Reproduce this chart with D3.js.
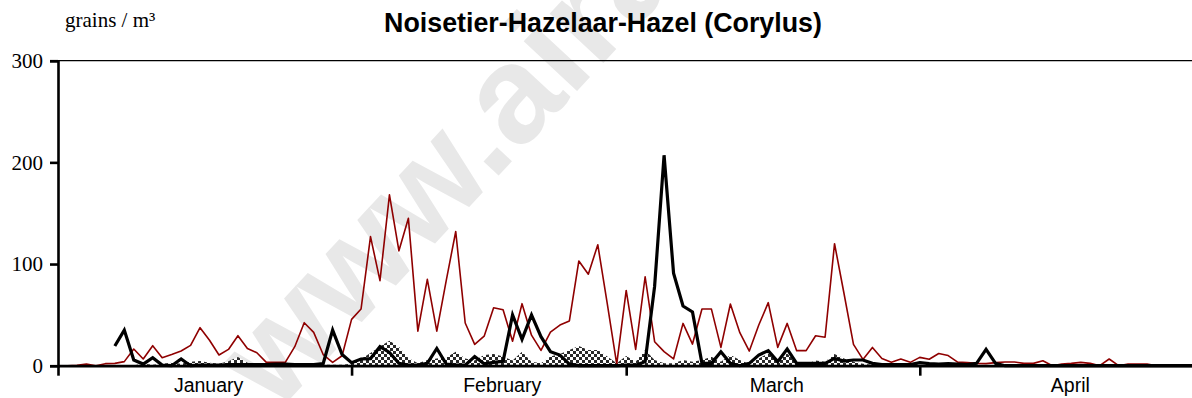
<!DOCTYPE html>
<html>
<head>
<meta charset="utf-8">
<script src="https://cdn.jsdelivr.net/npm/d3@7"></script>
<style>
  html, body { margin: 0; padding: 0; background: #fff; }
  svg { display: block; }
</style>
</head>
<body>
<svg id="chart" width="1192" height="398"></svg>
<script>
// Hazel pollen counts, one value per day from 1 January to 30 April.
const months = ["January", "February", "March", "April"];
const monthDays = [31, 29, 31, 30];
const yTicks = [0, 100, 200, 300];

// Daily mean over previous seasons (thin red line)
const meanSeries = [
  0, 0, 0.5, 1.6, 0, 2, 2.3, 4, 16.4, 6.6,
  19.7, 7.9, 11, 14.4, 20, 37.4, 25, 10.5, 16, 29.5,
  17, 12.8, 3.3, 3.3, 3.3, 18.7, 42.3, 32.8, 11, 3.3,
  9.8, 45.6, 55.7, 127, 83.6, 168, 113, 145, 34, 85,
  34, 84, 132, 42, 21, 29, 57, 55, 24, 61,
  30, 15, 33, 40, 44, 103, 90, 119, 61, 1.6,
  74, 16, 87.5, 23.6, 13.8, 6.6, 41.6, 21.3, 55.7, 55.7,
  18, 60.7, 32.5, 14.4, 40, 62, 18, 41.6, 14.8, 14.8,
  29.5, 28, 120, 71, 21, 6.2, 18, 7, 3.3, 6.5,
  3.3, 8.2, 6.4, 12, 10, 3.5, 3.2, 2.3, 2, 3,
  3.6, 3.6, 2.3, 2.3, 4.9, 0, 1.6, 2.3, 3.3, 2.3,
  0, 6.6, 0, 1.6, 1.6, 1.6, 0, 0, 0, 0,
  0
];

// Previous season (checkered area)
const previousSeries = [
  0, 0, 0, 0, 0, 0, 0, 0, 0.5, 2,
  1, 2, 3, 2, 4, 4.6, 3, 2, 4.5, 8.5,
  3, 1, 1, 1.5, 1.5, 2, 1.5, 1, 1, 1,
  1, 2, 6.6, 12.5, 19, 24.6, 18.7, 7.5, 2.3, 5.6,
  7.2, 8, 13.8, 7, 5, 10.5, 11.5, 9, 5, 13.8,
  4, 2.3, 9, 11.5, 15.4, 19.3, 15.4, 15.4, 9, 2.3,
  9.5, 4, 15.4, 5.6, 2.3, 2.3, 5.6, 4, 5.6, 8.9,
  4, 10.5, 5.6, 1.6, 7, 12, 5.6, 12, 2.3, 1.6,
  5, 4, 11.5, 7, 4, 2, 1, 1, 0.5, 0.5,
  1, 1, 0.5, 0.5, 0.5, 0.5, 0.5, 0.5, 0.5, 0.5,
  0.5, 0.5, 0.5, 0.5, 0.5, 0.5, 0.5, 0.5, 0.5, 0.5,
  0, 0, 0, 0, 0, 0, 0, 0, 0, 0,
  0
];

// Current season (thick black line); no counts before 7 January
const currentSeries = [
  null, null, null, null, null, null, 19.4, 35, 5.6, 1.6,
  7.9, 0.6, 0, 6.6, 0, 0.5, 0.5, 0.5, 1, 1,
  1, 1, 1, 1.5, 1.5, 1, 1, 1, 2, 35,
  11, 3, 6.6, 7, 18.7, 13, 2.3, 0.6, 0.6, 2.3,
  17, 1.6, 0.5, 0.5, 8.9, 1.8, 3.3, 4.3, 50, 26,
  50, 28.5, 13.8, 10.5, 1.6, 0, 0, 0, 0, 0,
  0.5, 0.5, 4, 78, 207, 91, 58.7, 52.8, 2.3, 2.3,
  13.8, 2.3, 0, 2.3, 10.5, 14.8, 4, 16.4, 2.3, 2.3,
  2.3, 2.3, 7.2, 4.6, 5.6, 5.6, 2.3, 1, 1, 1,
  1, 3, 2, 1.5, 2, 1.5, 1, 2.3, 16, 2.3,
  0, 0, 0, 0, 0, 0, 0, 0, 0, 0,
  0, 0, 0, 0, 0, 0, 0, 0, 0, 0,
  0
];

const svg = d3.select("#chart");
const totalDays = d3.sum(monthDays);
const monthStarts = d3.cumsum([0, ...monthDays.slice(0, -1)]);

const x = d3.scaleLinear().domain([0, totalDays]).range([58, 58 + totalDays * 9.47]);
const y = d3.scaleLinear().domain([0, 300]).range([365.7, 60.7]);

// Site watermark, faint and diagonal, behind the data
svg.append("text")
  .attr("transform", "translate(276,414) rotate(-47)")
  .attr("font-family", "'Liberation Sans', Arial, sans-serif")
  .attr("font-weight", "bold")
  .attr("font-size", 138)
  .attr("fill", "#e8e8e8")
  .text("www.airallergy.be");

// Checkerboard fill for the previous season
const defs = svg.append("defs");
const pat = defs.append("pattern")
  .attr("id", "checker")
  .attr("width", 6).attr("height", 6)
  .attr("patternUnits", "userSpaceOnUse");
pat.append("rect").attr("width", 6).attr("height", 6).attr("fill", "#fff");
pat.append("rect").attr("width", 3).attr("height", 3).attr("fill", "#2a2a2a");
pat.append("rect").attr("x", 3).attr("y", 3).attr("width", 3).attr("height", 3).attr("fill", "#2a2a2a");

// Top border of the plot area
svg.append("line")
  .attr("x1", x(0)).attr("x2", 1192)
  .attr("y1", y(300)).attr("y2", y(300))
  .attr("stroke", "#000").attr("stroke-width", 1.3);

// Previous season area
svg.append("path")
  .datum(previousSeries)
  .attr("fill", "url(#checker)")
  .attr("d", d3.area()
    .x((d, i) => x(i))
    .y0(y(0))
    .y1(d => y(d)));

// Mean line
svg.append("path")
  .datum(meanSeries)
  .attr("fill", "none")
  .attr("stroke", "#8f0000")
  .attr("stroke-width", 1.6)
  .attr("stroke-linejoin", "round")
  .attr("d", d3.line().x((d, i) => x(i)).y(d => y(d)));

// Current season line
svg.append("path")
  .datum(currentSeries)
  .attr("fill", "none")
  .attr("stroke", "#000")
  .attr("stroke-width", 3.2)
  .attr("stroke-linejoin", "miter")
  .attr("d", d3.line()
    .defined(d => d !== null)
    .x((d, i) => x(i))
    .y(d => y(d)));

// Y axis
const yAxis = d3.axisLeft(y).tickValues(yTicks).tickSize(8).tickPadding(7);
const gy = svg.append("g").attr("transform", `translate(${x(0)},0)`).call(yAxis);
gy.select(".domain").attr("stroke", "#000").attr("stroke-width", 2.6);
gy.selectAll(".tick line").attr("stroke", "#000").attr("stroke-width", 2.6);
gy.selectAll(".tick text")
  .attr("font-family", "'Liberation Serif', 'Times New Roman', serif")
  .attr("font-size", 21)
  .attr("fill", "#000");

// X axis: ticks at month boundaries
const xAxis = d3.axisBottom(x)
  .tickValues(monthStarts)
  .tickSize(10)
  .tickFormat("")
  .tickSizeOuter(0);
const gx = svg.append("g").attr("transform", `translate(0,${y(0)})`).call(xAxis);
gx.select(".domain").attr("stroke", "#000").attr("stroke-width", 2.8);
gx.selectAll(".tick line").attr("stroke", "#000").attr("stroke-width", 2.6);

// Month names
svg.append("g")
  .selectAll("text")
  .data(months)
  .join("text")
  .attr("x", (d, i) => x(monthStarts[i] + 15.9))
  .attr("y", 392)
  .attr("text-anchor", "middle")
  .attr("font-family", "'Liberation Sans', Arial, sans-serif")
  .attr("font-size", 19.5)
  .attr("fill", "#000")
  .text(d => d);

// Unit label
svg.append("text")
  .attr("x", 65).attr("y", 27)
  .attr("font-family", "'Liberation Serif', 'Times New Roman', serif")
  .attr("font-size", 21)
  .attr("fill", "#000")
  .text("grains / m³");

// Title
svg.append("text")
  .attr("x", 603).attr("y", 32)
  .attr("text-anchor", "middle")
  .attr("font-family", "'Liberation Sans', Arial, sans-serif")
  .attr("font-weight", "bold")
  .attr("font-size", 26.8)
  .attr("fill", "#000")
  .text("Noisetier-Hazelaar-Hazel (Corylus)");
</script>
</body>
</html>
